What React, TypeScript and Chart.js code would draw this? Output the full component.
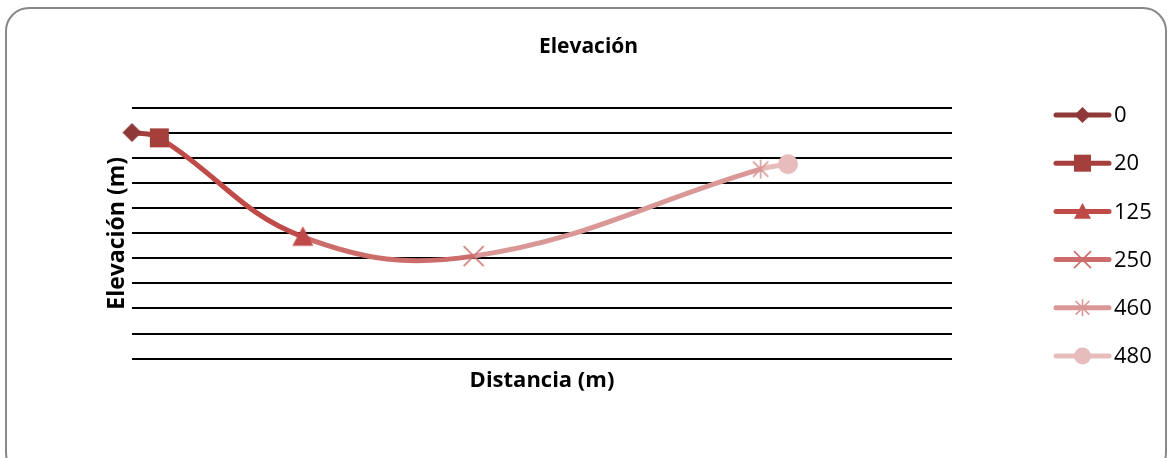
import React, { useEffect, useRef } from "react";
import { Chart, registerables } from "chart.js";

Chart.register(...registerables);

// ---- data ----
const distances = [0, 20, 125, 250, 460, 480];
const elevations = [90.2, 88.1, 48.6, 40.9, 75.6, 77.6];
const legendLabels = ["0", "20", "125", "250", "460", "480"];
const pointColors = ["#8E3937", "#A53F3C", "#BF4A47", "#CC6D6B", "#D99896", "#E6BDBC"];
const markerKinds = ["diamond", "square", "triangle", "x", "star", "circle"];
const xRange = [0, 600];
const yRange = [0, 100];
const yStep = 10;
const chartTitle = "Elevación";
const xTitle = "Distancia (m)";
const yTitle = "Elevación (m)";

function drawMarker(ctx: CanvasRenderingContext2D, kind: string, x: number, y: number, s: number, color: string) {
  ctx.save();
  ctx.fillStyle = color;
  ctx.strokeStyle = color;
  ctx.lineWidth = 1.6;
  ctx.lineCap = "butt";
  ctx.beginPath();
  if (kind === "diamond") {
    const r = s * 0.5;
    ctx.moveTo(x, y - r);
    ctx.lineTo(x + r, y);
    ctx.lineTo(x, y + r);
    ctx.lineTo(x - r, y);
    ctx.closePath();
    ctx.fill();
  } else if (kind === "square") {
    const h = s * 0.5;
    ctx.rect(x - h, y - h, s, s);
    ctx.fill();
  } else if (kind === "triangle") {
    const h = s * 0.5;
    ctx.moveTo(x, y - h);
    ctx.lineTo(x + h, y + h * 0.85);
    ctx.lineTo(x - h, y + h * 0.85);
    ctx.closePath();
    ctx.fill();
  } else if (kind === "x") {
    const h = s * 0.5;
    ctx.moveTo(x - h, y - h);
    ctx.lineTo(x + h, y + h);
    ctx.moveTo(x + h, y - h);
    ctx.lineTo(x - h, y + h);
    ctx.stroke();
  } else if (kind === "star") {
    const h = s * 0.5;
    ctx.moveTo(x - h * 0.8, y - h * 0.8);
    ctx.lineTo(x + h * 0.8, y + h * 0.8);
    ctx.moveTo(x + h * 0.8, y - h * 0.8);
    ctx.lineTo(x - h * 0.8, y + h * 0.8);
    ctx.moveTo(x, y - h);
    ctx.lineTo(x, y + h);
    ctx.stroke();
  } else {
    ctx.arc(x, y, s * 0.5, 0, Math.PI * 2);
    ctx.fill();
  }
  ctx.restore();
}

function markerCanvas(kind: string, s: number, color: string) {
  const c = document.createElement("canvas");
  const size = Math.ceil(s + 4);
  c.width = size;
  c.height = size;
  const ctx = c.getContext("2d") as CanvasRenderingContext2D;
  drawMarker(ctx, kind, size / 2, size / 2, s, color);
  return c;
}

const overlayPlugin = {
  id: "overlay",
  afterDraw(chart: any) {
    const ctx: CanvasRenderingContext2D = chart.ctx;
    const area = chart.chartArea;
    ctx.save();
    ctx.fillStyle = "#000";
    ctx.font = 'bold 21px "Open Sans"';
    ctx.textAlign = "center";
    ctx.textBaseline = "middle";
    ctx.fillText(chartTitle, chart.width / 2 + 3, 47);

    const lx0 = area.right + 104;
    const lx1 = area.right + 157;
    const mx = (lx0 + lx1) / 2;
    legendLabels.forEach((lab, i) => {
      const y = area.top + 7 + i * 48.2;
      ctx.strokeStyle = pointColors[i];
      ctx.lineWidth = 5;
      ctx.lineCap = "round";
      ctx.beginPath();
      ctx.moveTo(lx0, y);
      ctx.lineTo(lx1, y);
      ctx.stroke();
      drawMarker(ctx, markerKinds[i], mx, y, i === 0 ? 16 : 17, pointColors[i]);
      ctx.fillStyle = "#000";
      ctx.font = '22px "Open Sans"';
      ctx.textAlign = "left";
      ctx.textBaseline = "middle";
      ctx.fillText(lab, lx1 + 5, y + 1);
    });
    ctx.restore();
  },
};

export default function App() {
  const ref = useRef<HTMLCanvasElement | null>(null);

  useEffect(() => {
    if (!ref.current) return;
    const plotSizes = [19, 19, 21, 20, 19, 20];
    const styles = markerKinds.map((k, i) => markerCanvas(k, plotSizes[i], pointColors[i]));
    const chart = new Chart(ref.current, {
      type: "scatter",
      data: {
        datasets: [
          {
            label: "Elevación",
            data: distances.map((d, i) => ({ x: d, y: elevations[i] })),
            showLine: true,
            clip: false,
            tension: 0.4,
            borderWidth: 5,
            borderColor: pointColors[1],
            segment: {
              borderColor: (c: any) => pointColors[c.p1DataIndex],
            },
            pointStyle: styles as any,
            pointRadius: 10,
            pointHoverRadius: 10,
            backgroundColor: pointColors,
            pointBackgroundColor: pointColors,
            pointBorderColor: pointColors,
          } as any,
        ],
      },
      options: {
        animation: false,
        responsive: false,
        events: [],
        layout: { padding: { top: 108, left: 103.4, right: 219, bottom: 64.4 } },
        plugins: {
          legend: { display: false },
          title: { display: false },
          tooltip: { enabled: false },
        },
        scales: {
          x: {
            type: "linear",
            min: xRange[0],
            max: xRange[1],
            ticks: { display: false },
            grid: { display: false, drawTicks: false },
            border: { display: false },
            title: {
              display: true,
              text: xTitle,
              color: "#000",
              font: { family: '"Open Sans"', size: 22, weight: "bold" },
              padding: { top: 8.6, bottom: 0 },
            },
          },
          y: {
            min: yRange[0],
            max: yRange[1],
            ticks: { display: false, stepSize: yStep },
            grid: { color: "#000", lineWidth: 2, drawTicks: false },
            border: { display: false },
            title: {
              display: true,
              text: yTitle,
              color: "#000",
              font: { family: '"Open Sans"', size: 23, weight: "bold" },
              padding: { top: 0, bottom: 1 },
            },
          },
        },
      } as any,
      plugins: [overlayPlugin],
    });
    return () => chart.destroy();
  }, []);

  return (
    <div style={{ position: "fixed", left: 0, top: 0, width: 1171, height: 458, overflow: "hidden", background: "#fff" }}>
      <canvas ref={ref} width={1171} height={458} style={{ position: "absolute", left: 0, top: 0 }} />
      <div
        style={{
          position: "absolute",
          left: 5,
          top: 7,
          width: 1162,
          height: 470,
          boxSizing: "border-box",
          border: "2px solid #878787",
          borderRadius: 24,
          pointerEvents: "none",
        }}
      />
    </div>
  );
}
